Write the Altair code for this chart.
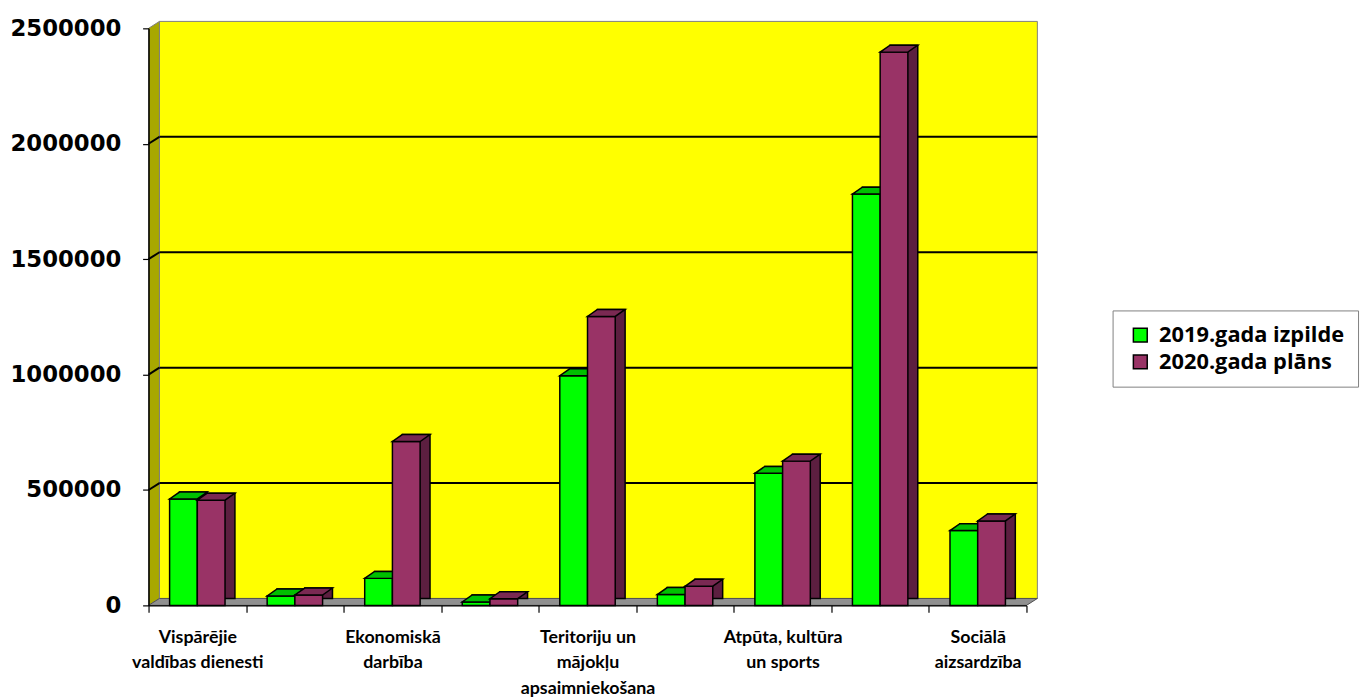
import json
import altair as alt
import pandas as pd

# ---------------- data ----------------
CATEGORIES = [
    "Vispārējie valdības dienesti",
    "Sabiedriskā kārtība un drošība",
    "Ekonomiskā darbība",
    "Vides aizsardzība",
    "Teritoriju un mājokļu apsaimniekošana",
    "Veselība",
    "Atpūta, kultūra un sports",
    "Izglītība",
    "Sociālā aizsardzība",
]
TICK_LABELS = [
    ["Vispārējie", "valdības dienesti"],
    "",
    ["Ekonomiskā", "darbība"],
    "",
    ["Teritoriju un", "mājokļu", "apsaimniekošana"],
    "",
    ["Atpūta, kultūra", "un sports"],
    "",
    ["Sociālā", "aizsardzība"],
]
SERIES = ["2019.gada izpilde", "2020.gada plāns"]
IZPILDE_2019 = [461000, 41000, 117000, 15000, 995000, 47000, 572000, 1782000, 324000]
PLANS_2020 = [456000, 45000, 710000, 29000, 1252000, 83000, 625000, 2397000, 366000]
Y_TICKS = [0, 500000, 1000000, 1500000, 2000000, 2500000]
GRID_VALUES = [500000, 1000000, 1500000, 2000000]

# ---------------- styling / geometry ----------------
W, H = 887, 583          # plot area
WX, WY = 11, 7           # depth of the walls
DX, DY = 10, 7           # depth of the bars
BW = 28                  # width of one bar (px)

YELLOW = "#FFFF00"
WALL_SIDE = "#A8A800"
FLOOR = "#909090"
EDGE = "#808080"
COLORS = {
    SERIES[0]: ("#00FF00", "#00C000", "#008000"),
    SERIES[1]: ("#993366", "#7A2952", "#5C1F40"),
}
SHIFT = {SERIES[0]: -BW / 2, SERIES[1]: BW / 2}

rows = []
for c, a, b in zip(CATEGORIES, IZPILDE_2019, PLANS_2020):
    rows.append({"cat": c, "series": SERIES[0], "value": a})
    rows.append({"cat": c, "series": SERIES[1], "value": b})
bars = pd.DataFrame(rows)
ONE = pd.DataFrame({"k": [0]})
GRID = pd.DataFrame({"v": GRID_VALUES})

label_expr = (
    json.dumps(TICK_LABELS, ensure_ascii=False)
    + "[indexof("
    + json.dumps(CATEGORIES, ensure_ascii=False)
    + ", datum.value)]"
)

xaxis = alt.Axis(
    title=None, labelExpr=label_expr, labelAngle=0, tickBand="extent",
    tickSize=7, tickColor="black", tickWidth=1.2, domainColor="black", domainWidth=1.5,
    labelFont="Lato", labelFontWeight="bold", labelFontSize=18, labelLineHeight=26,
    labelColor="black", labelPadding=16, labelOverlap=False, zindex=1,
)
yaxis = alt.Axis(
    title=None, values=Y_TICKS, format="d", grid=False, tickSize=6, tickColor="black",
    tickWidth=1.2, domainColor="black", domainWidth=1.5, labelFont="DejaVu Sans",
    labelFontWeight="bold", labelFontSize=23, labelPadding=22, labelColor="black", zindex=1,
)
xscale = alt.Scale(domain=CATEGORIES, paddingInner=0, paddingOuter=0)
yscale = alt.Scale(domain=[0, 2500000], nice=False)
X = alt.X("cat:N", sort=CATEGORIES, scale=xscale, axis=xaxis)
Y = alt.Y("value:Q", scale=yscale, axis=yaxis)


def poly(pts, fill, stroke, sw=1.0):
    path = "M" + " L".join(f"{x:.2f},{y:.2f}" for x, y in pts) + " Z"
    return alt.Chart(ONE).mark_point(
        shape=path, size=4, filled=True, fill=fill, stroke=stroke,
        strokeWidth=sw, opacity=1, strokeJoin="miter",
    ).encode(x=alt.value(0), y=alt.value(0))


back_wall = poly([(WX, -WY), (W + WX, -WY), (W + WX, H - WY), (WX, H - WY)], YELLOW, EDGE)
side_wall = poly([(0, 0), (WX, -WY), (WX, H - WY), (0, H)], WALL_SIDE, EDGE)
floor = poly([(0, H), (WX, H - WY), (W + WX, H - WY), (W, H)], FLOOR, "#505050")

grid_wall = alt.Chart(GRID).mark_rule(
    color="black", strokeWidth=2, yOffset=-WY, y2Offset=-WY
).encode(
    x=alt.value(WX), x2=alt.value(W + WX),
    y=alt.Y("v:Q", scale=yscale, axis=yaxis), y2=alt.Y2("v"),
)
grid_side = alt.Chart(GRID).mark_rule(
    color="black", strokeWidth=2, y2Offset=-WY
).encode(
    x=alt.value(0), x2=alt.value(WX),
    y=alt.Y("v:Q", scale=yscale, axis=yaxis), y2=alt.Y2("v"),
)

legend = alt.Legend(
    title=None, orient="none", legendX=974, legendY=285, fillColor="white",
    strokeColor=EDGE, padding=14, symbolType="square", symbolSize=196,
    symbolStrokeColor="black", symbolStrokeWidth=1.5, symbolOffset=3, labelOffset=8,
    labelFont="Open Sans", labelFontWeight="bold", labelFontSize=22, labelColor="black",
    rowPadding=5, labelLimit=400,
)
color = alt.Color("series:N", scale=alt.Scale(domain=SERIES, range=[COLORS[s][0] for s in SERIES]), legend=legend)

top_path = (
    f"M{-BW/2:.2f},0 L{BW/2:.2f},0 L{BW/2 + DX:.2f},{-DY} L{-BW/2 + DX:.2f},{-DY} Z"
)

bar_layers = []
for s in SERIES:
    front_c, top_c, side_c = COLORS[s]
    base = alt.Chart(bars).transform_filter(alt.datum.series == s)
    side = base.mark_bar(
        width=BW, color=side_c, stroke="black", strokeWidth=1.5,
        xOffset=SHIFT[s] + DX, yOffset=-DY, y2Offset=-DY,
    ).encode(x=X, y=Y)
    front = base.mark_bar(
        width=BW, stroke="black", strokeWidth=1.5, xOffset=SHIFT[s]
    ).encode(x=X, y=Y, color=color)
    top = base.mark_point(
        shape=top_path, size=4, filled=True, fill=top_c, stroke="black",
        strokeWidth=1.5, opacity=1, strokeJoin="miter", xOffset=SHIFT[s],
    ).encode(x=X, y=Y)
    bar_layers += [side, front, top]

chart = alt.layer(
    back_wall, side_wall, floor, grid_wall, grid_side, *bar_layers
).properties(
    width=W, height=H,
    padding={"left": 142, "top": 17, "right": 340, "bottom": 89},
    autosize=alt.AutoSizeParams(type="none"),
    background="white",
).configure_view(strokeWidth=0)

chart.save("out.html", embed_options={"renderer": "svg", "actions": False})
